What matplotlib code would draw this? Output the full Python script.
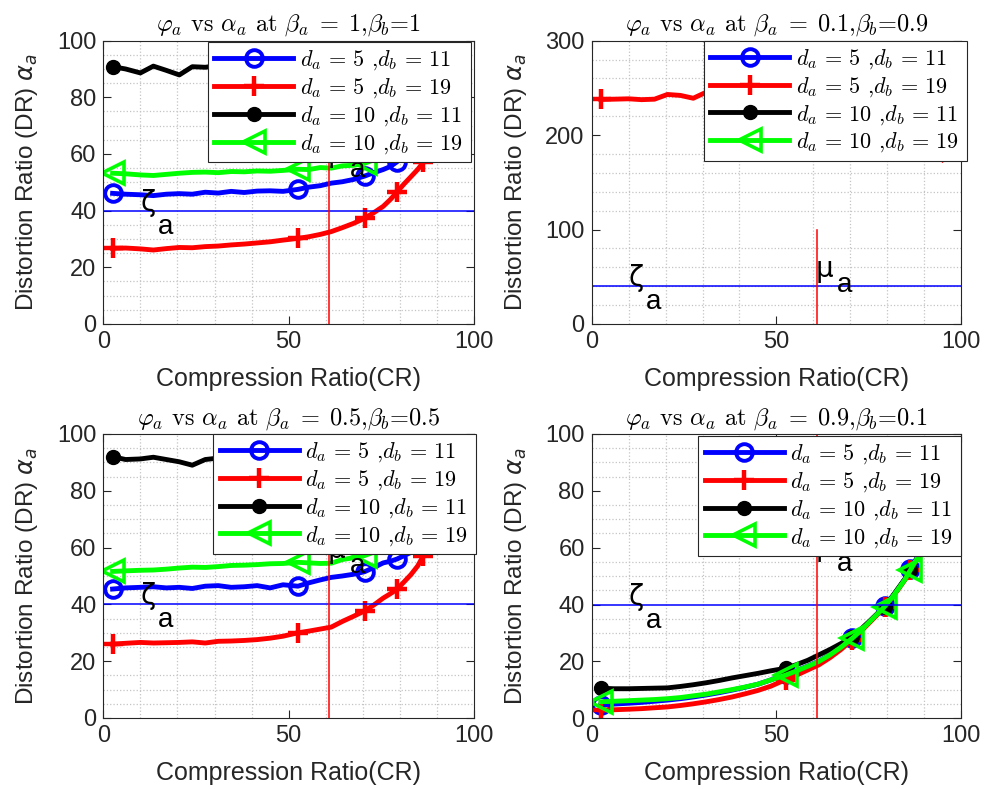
import matplotlib
matplotlib.use('Agg')
import matplotlib.pyplot as plt
from matplotlib.ticker import MultipleLocator
from matplotlib.font_manager import FontProperties

# compression ratio samples shared by every curve
CR = [2.5, 6, 10, 13.5, 17, 20.5, 24, 27.5, 31, 34.5, 38, 41.5, 45, 48.5, 52.5,
      55.5, 58.5, 61.5, 64.5, 67.5, 70.5, 73, 75.5, 77.5, 79.3, 81.2, 83, 84.8,
      86.3, 88, 89.5, 91, 92.5, 93.8, 95]
MARK_IDX = [0, 14, 20, 24, 28, 31]

ZETA_A = 40      # distortion threshold
MU_A = 61        # compression threshold
MU_TOP = 100

# beta_a = 1, beta_b = 1
b11_5_11 = [46.1, 45.8, 45.6, 45.3, 45.8, 46.0, 45.8, 46.5, 46.2, 46.8, 46.4, 46.9, 47.0, 46.8, 47.5,
            48.3, 48.8, 49.7, 50.2, 51.0, 52.2, 53.4, 54.5, 55.6, 57.3, 60.0, 63.0, 66.0,
            70.0, 74.0, 79.0, 84.0, 90.0, 96.0, 103.0]
b11_5_19 = [26.7, 26.8, 26.5, 26.1, 26.6, 27.0, 26.9, 27.3, 27.5, 27.9, 28.2, 28.6, 29.0, 29.6, 30.2,
            30.8, 31.6, 32.6, 34.0, 35.5, 37.3, 39.3, 41.5, 44.0, 46.7, 49.5, 52.0, 54.5,
            57.0, 61.0, 65.0, 70.0, 76.0, 83.0, 92.0]
b11_10_11 = [90.8, 90.0, 88.6, 91.0, 89.5, 87.9, 90.8, 90.6, 91.2, 91.0, 91.5, 91.2, 91.8, 92.0, 92.4,
             94.0, 96.0, 98.5, 101.5, 104.0, 107.0, 110.0, 113.0, 116.0, 119.0, 123.0, 127.0, 131.0,
             136.0, 141.0, 147.0, 154.0, 162.0, 170.0, 180.0]
b11_10_19 = [53.2, 53.0, 52.6, 52.4, 52.8, 53.2, 53.5, 53.6, 53.4, 53.8, 53.7, 54.0, 53.9, 54.2, 54.6,
             54.5, 55.2, 55.0, 55.8, 56.0, 56.7, 58.0, 59.5, 61.0, 63.0, 66.0, 69.0, 72.0,
             76.0, 80.0, 85.0, 90.0, 96.0, 102.0, 110.0]

# beta_a = 0.1, beta_b = 0.9
b19_5_11 = [415, 418, 420, 421, 423, 425, 426, 428, 430, 431, 433, 435, 436, 438, 440,
            442, 444, 446, 448, 450, 452, 454, 456, 457, 458, 459, 458, 456,
            452, 446, 438, 425, 410, 398, 390]
b19_5_19 = [237.7, 238.0, 238.4, 237.5, 238.0, 243.0, 242.0, 239.0, 245.4, 246.0, 247.0, 248.0, 249.0, 250.0, 251.0,
            252.0, 253.0, 254.0, 255.0, 256.0, 257.0, 258.0, 259.0, 259.0, 260.0, 260.0, 259.0, 257.0,
            254.0, 248.0, 235.0, 205.0, 184.0, 179.0, 174.0]
b19_10_11 = [880, 878, 882, 885, 884, 886, 888, 890, 891, 893, 895, 897, 899, 901, 903,
             906, 909, 912, 915, 918, 921, 924, 927, 929, 931, 932, 931, 928,
             922, 914, 903, 886, 862, 845, 835]
b19_10_19 = [505, 506, 508, 509, 511, 512, 514, 515, 517, 518, 520, 521, 523, 524, 526,
             528, 530, 532, 534, 536, 538, 540, 542, 543, 544, 545, 544, 541,
             536, 529, 519, 503, 484, 470, 462]

# beta_a = 0.5, beta_b = 0.5
b55_5_11 = [45.4, 45.8, 46.0, 46.2, 45.8, 46.0, 45.6, 46.4, 46.6, 46.0, 46.2, 46.6, 45.8, 46.9, 46.4,
            47.6, 48.6, 49.5, 50.0, 50.6, 51.5, 53.0, 54.6, 55.2, 56.0, 57.2, 58.3, 60.5,
            63.0, 67.0, 71.0, 76.0, 82.0, 88.0, 95.0]
b55_5_19 = [26.0, 26.3, 26.6, 26.4, 26.5, 26.6, 26.8, 26.4, 27.0, 27.1, 27.3, 27.6, 28.1, 28.8, 30.0,
            30.6, 31.3, 32.0, 34.0, 35.8, 37.7, 39.8, 42.2, 43.8, 45.4, 48.0, 50.5, 53.5,
            57.0, 61.0, 65.0, 70.0, 76.0, 83.0, 91.0]
b55_10_11 = [92.0, 91.0, 91.2, 91.8, 91.0, 90.2, 89.0, 91.0, 91.5, 91.3, 91.7, 92.0, 92.2, 92.5, 92.8,
             94.5, 96.5, 99.0, 102.0, 105.0, 108.0, 111.0, 114.0, 117.0, 120.0, 124.0, 128.0, 132.0,
             137.0, 142.0, 148.0, 155.0, 163.0, 171.0, 181.0]
b55_10_19 = [51.6, 51.8, 52.0, 52.1, 52.4, 52.8, 53.1, 53.0, 53.3, 53.7, 53.8, 54.0, 54.3, 54.4, 54.8,
             54.6, 54.4, 54.5, 55.8, 56.4, 57.2, 58.4, 60.0, 62.0, 64.0, 67.0, 70.0, 73.0,
             77.0, 81.0, 86.0, 91.0, 97.0, 103.0, 111.0]

# beta_a = 0.9, beta_b = 0.1
b91_5_11 = [4.7, 5.0, 5.3, 5.6, 6.0, 6.4, 6.9, 7.5, 8.2, 9.0, 9.9, 10.9, 12.0, 13.5, 15.5,
            16.8, 18.4, 20.1, 22.4, 25.1, 28.3, 31.1, 34.4, 37.0, 39.5, 42.5, 45.6, 49.0,
            52.5, 56.3, 60.0, 64.8, 70.8, 77.8, 86.3]
b91_5_19 = [2.9, 3.0, 3.2, 3.4, 3.7, 4.0, 4.5, 5.1, 5.8, 6.6, 7.5, 8.6, 9.8, 11.3, 13.6,
            15.2, 17.0, 18.8, 21.3, 24.2, 27.6, 30.7, 34.0, 36.7, 39.2, 42.2, 45.4, 48.7,
            52.0, 55.8, 59.5, 64.2, 70.2, 77.2, 85.5]
b91_10_11 = [10.6, 10.4, 10.4, 10.5, 10.6, 10.7, 11.2, 11.8, 12.5, 13.3, 14.2, 15.0, 15.8, 16.7, 17.6,
             18.9, 20.4, 22.3, 24.2, 26.3, 28.7, 31.5, 34.5, 37.0, 39.3, 42.5, 45.8, 49.0,
             52.2, 56.0, 59.5, 64.0, 70.0, 77.0, 85.0]
b91_10_19 = [5.8, 6.0, 6.2, 6.4, 6.6, 6.9, 7.3, 7.9, 8.5, 9.3, 10.1, 11.0, 12.0, 13.5, 15.2,
             16.7, 18.3, 20.0, 22.3, 25.0, 28.1, 31.0, 34.3, 36.9, 39.3, 42.3, 45.5, 48.8,
             52.2, 56.0, 59.8, 64.5, 70.5, 77.5, 86.0]

LABELS = [r'$d_a\,=\,5$ ,$d_b\,=\,11$ ', r'$d_a\,=\,5$ ,$d_b\,=\,19$ ',
          r'$d_a\,=\,10$ ,$d_b\,=\,11$ ', r'$d_a\,=\,10$ ,$d_b\,=\,19$ ']
TITLES = [r'$\varphi_a$ vs $\alpha_a$ at $\beta_a\;=\;1$,$\beta_b$=1',
          r'$\varphi_a$ vs $\alpha_a$ at $\beta_a\;=\;0.1$,$\beta_b$=0.9',
          r'$\varphi_a$ vs $\alpha_a$ at $\beta_a\;=\;0.5$,$\beta_b$=0.5',
          r'$\varphi_a$ vs $\alpha_a$ at $\beta_a\;=\;0.9$,$\beta_b$=0.1']

STYLES = [dict(color='#0000ff', marker='o', ms=12, mew=2.8, mfc='none'),
          dict(color='#ff0000', marker='+', ms=14, mew=3.2),
          dict(color='black', marker='o', ms=10, mew=1),
          dict(color='#00ff00', marker='<', ms=16, mew=2.6, mfc='none')]

plt.rcParams['font.family'] = 'Liberation Sans'

fig = plt.figure(figsize=(9.85, 7.89), dpi=100)
ejes = [fig.add_axes([0.1049, 0.5894, 0.3763, 0.3591]),
        fig.add_axes([0.6007, 0.5894, 0.3750, 0.3591]),
        fig.add_axes([0.1049, 0.0900, 0.3763, 0.3600]),
        fig.add_axes([0.6007, 0.0896, 0.3750, 0.3604])]

series = [[b11_5_11, b11_5_19, b11_10_11, b11_10_19],
          [b19_5_11, b19_5_19, b19_10_11, b19_10_19],
          [b55_5_11, b55_5_19, b55_10_11, b55_10_19],
          [b91_5_11, b91_5_19, b91_10_11, b91_10_19]]
ylims = [100, 300, 100, 100]
ymajor = [20, 100, 20, 20]
yminor = [5, 20, 5, 5]
mu_y = [57, 50, 56.5, 57]
anclas = [(0.991, 0.995), (1.015, 1.0), (1.005, 1.0), (1.0, 0.993)]

leg_font = FontProperties(family='cmr10', size=16, math_fontfamily='cm')

for i, ax in enumerate(ejes):
    for ys, lab, st in zip(series[i], LABELS, STYLES):
        ax.plot(CR, ys, lw=3.5, markevery=MARK_IDX, label=lab, **st)

    ax.axhline(ZETA_A, color='#0000ff', lw=1.1, zorder=2.5)
    ax.plot([MU_A, MU_A], [0, MU_TOP], color='#ff0000', lw=1.1, zorder=2.5)

    # threshold annotations
    ax.text(10, ZETA_A, 'ζ', fontsize=20, family='DejaVu Sans', va='baseline', zorder=3)
    ax.annotate('a', xy=(10, ZETA_A), xytext=(17, -23), textcoords='offset pixels',
                fontsize=20, va='baseline', zorder=3)
    ax.text(60.5, mu_y[i], 'μ', fontsize=20, family='DejaVu Sans', va='baseline', zorder=3)
    ax.annotate('a', xy=(60.5, mu_y[i]), xytext=(22, -15), textcoords='offset pixels',
                fontsize=20, va='baseline', zorder=3)

    ax.set_xlim(0, 100)
    ax.set_ylim(0, ylims[i])
    ax.xaxis.set_major_locator(MultipleLocator(50))
    ax.xaxis.set_minor_locator(MultipleLocator(10))
    ax.yaxis.set_major_locator(MultipleLocator(ymajor[i]))
    ax.yaxis.set_minor_locator(MultipleLocator(yminor[i]))
    ax.grid(which='minor', color='#c4c4c4', ls=':', lw=0.9)
    ax.grid(which='major', visible=False)
    ax.tick_params(which='major', direction='in', top=True, right=True, length=6,
                   width=0.8, color='0.15', labelsize=17, labelcolor='0.15', pad=5)
    ax.tick_params(which='minor', length=0)
    for sp in ax.spines.values():
        sp.set_linewidth(0.8)
        sp.set_color('0.15')

    ax.set_xlabel('Compression Ratio(CR)', fontsize=18, color='0.15', labelpad=10)
    ax.set_ylabel(r'Distortion Ratio (DR) $\alpha_a$', fontsize=17.5, color='0.15',
                  math_fontfamily='dejavusans', labelpad=12)
    ax.set_title(TITLES[i], fontsize=17.5, fontfamily='cmr10', math_fontfamily='cm', pad=7)

    leg = ax.legend(loc='upper right', bbox_to_anchor=anclas[i], borderaxespad=0,
                    prop=leg_font, fancybox=False, framealpha=1, edgecolor='0.15',
                    borderpad=0.3, handlelength=3.55, handletextpad=0.3,
                    labelspacing=0.18, numpoints=1)
    leg.get_frame().set_linewidth(0.8)

fig.savefig('out.png', dpi=100)
